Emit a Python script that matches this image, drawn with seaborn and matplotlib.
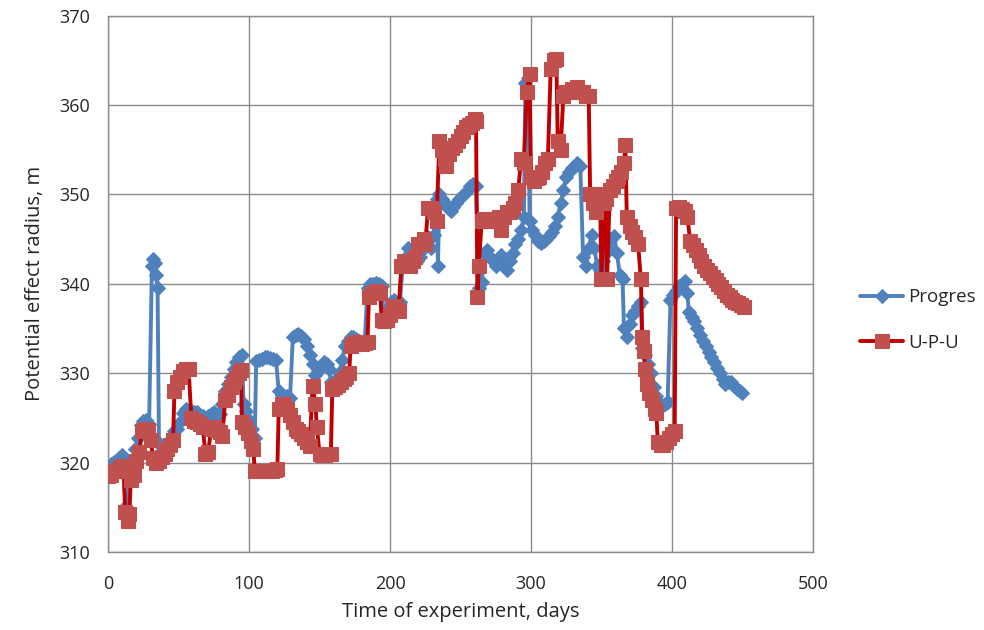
import matplotlib
matplotlib.use("Agg")
import matplotlib.pyplot as plt
import seaborn as sns
import pandas as pd

# ---------------- data ----------------
progres_days = [0, 2, 4, 6, 8, 10, 11, 12, 14, 15, 17, 19, 21, 23, 25, 27, 29,
                31, 32, 33, 34, 35, 36, 37, 39, 41, 43, 45, 47, 49, 51, 53, 55, 57, 59,
                61, 63, 65, 67, 69, 71, 73, 75, 77, 79, 81, 83, 85, 87, 89, 91, 93, 95,
                96, 98, 100, 102, 104, 105, 107, 109, 111, 113, 115, 117, 119, 121, 123,
                125, 127, 129, 131, 133, 135, 137, 139, 141, 143, 145, 147, 149, 151, 153,
                155, 157, 158, 160, 162, 164, 166, 168, 170, 172, 174, 176, 178, 180, 182,
                184, 186, 188, 190, 192, 194, 195, 197, 199, 201, 203, 205, 207, 209, 211,
                213, 215, 217, 219, 221, 223, 225, 227, 229, 231, 233, 234, 235, 237, 239,
                241, 243, 245, 247, 249, 251, 253, 255, 257, 259, 261, 263, 265, 267, 269,
                271, 273, 275, 277, 279, 281, 283, 285, 287, 289, 291, 293, 295, 296, 298,
                299, 301, 303, 305, 307, 309, 311, 313, 315, 317, 319, 321, 323, 325, 327,
                329, 331, 333, 335, 337, 339, 341, 343, 345, 347, 349, 351, 353, 355, 357,
                359, 361, 363, 365, 366, 368, 370, 372, 374, 376, 378, 379, 381, 383, 385,
                387, 389, 391, 393, 395, 397, 399, 401, 403, 405, 407, 409, 411, 412, 414,
                416, 418, 420, 422, 424, 426, 428, 430, 432, 434, 436, 438, 440, 442, 444,
                446, 448, 450]
progres_vals = [319.5, 319.8, 320.1, 320.3, 320.6, 320.8, 320.3, 315.0, 314.8, 318.5,
                320.0, 321.5, 322.8, 324.2, 324.6, 324.8, 324.3,
                342.0, 342.8, 342.3, 341.0, 339.5, 322.2, 322.0, 321.0, 321.3, 322.0,
                322.8, 323.5, 323.8, 324.5, 325.5, 326.0, 325.8, 325.8,
                325.6, 325.6, 325.3, 325.2, 325.0, 325.2, 325.4, 325.6, 325.3, 325.4,
                326.5, 328.0, 328.8, 329.6, 330.5, 331.2, 331.8, 332.0,
                326.5, 325.8, 324.8, 323.8, 322.8, 331.4, 331.5, 331.6, 331.8, 331.8,
                331.7, 331.6, 331.5, 328.0, 327.6,
                327.5, 327.4, 327.2, 334.0, 334.3, 334.4, 334.2, 333.8, 333.0, 332.0,
                331.0, 329.8, 330.2, 330.8, 331.2,
                331.0, 330.5, 329.0, 329.0, 329.4, 330.0, 331.5, 333.0, 333.6, 334.0,
                334.0, 333.8, 333.6, 333.5, 333.5,
                339.5, 340.0, 340.0, 340.1, 340.0, 339.8, 336.0, 336.5, 337.5, 338.0,
                338.2, 337.5, 338.0, 342.0, 343.0,
                344.0, 343.5, 342.8, 342.5, 343.0, 343.8, 344.5, 345.2, 344.0, 345.5,
                349.5, 342.0, 350.0, 349.5, 349.0,
                348.5, 348.2, 348.6, 349.0, 349.5, 349.8, 350.2, 350.5, 351.0, 351.2,
                351.0, 339.5, 340.2, 343.5, 343.8,
                343.0, 342.5, 342.0, 342.8, 343.2, 342.5, 341.5, 342.5, 343.5, 344.5,
                345.0, 346.0, 347.5, 362.5, 363.0,
                347.0, 346.0, 345.5, 344.8, 344.6, 344.8, 345.0, 345.3, 345.8, 346.5,
                347.5, 349.0, 350.5, 352.0, 352.5,
                353.0, 353.2, 353.5, 353.2, 343.0, 342.0, 344.0, 345.5, 344.0, 342.0,
                341.5, 342.5, 343.5, 344.0, 345.0,
                345.3, 343.5, 341.0, 340.5, 335.0, 334.0, 335.5, 336.5, 337.0, 337.5,
                338.0, 332.8, 332.0, 331.0, 330.0,
                328.5, 327.5, 326.8, 326.3, 326.5, 326.8, 338.2, 338.8, 339.2, 339.8,
                340.0, 340.3, 339.0, 336.8, 336.3,
                335.8, 335.0, 334.3, 333.6, 333.0, 332.4, 331.8, 331.2, 330.6, 330.0,
                329.3, 328.8, 329.0, 329.0, 328.6,
                328.2, 328.0, 327.8]

upu_days = [0, 2, 4, 6, 8, 10, 11, 12, 14, 15, 16, 18, 20, 22, 24, 26, 28, 30, 32,
            34, 36, 38, 40, 42, 44, 46, 47, 49, 51, 53, 55, 57, 59, 61, 63, 65, 67, 69,
            71, 73, 75, 77, 79, 81, 83, 85, 87, 89, 91, 93, 94, 95, 97, 99, 101, 103,
            104, 106, 108, 110, 112, 114, 116, 118, 120, 121, 123, 125, 127, 129, 131,
            133, 135, 137, 139, 141, 143, 145, 147, 148, 150, 152, 154, 156, 158, 159,
            161, 163, 165, 167, 169, 171, 172, 174, 176, 178, 180, 182, 184, 185, 187,
            189, 191, 193, 194, 196, 198, 200, 202, 204, 206, 208, 210, 212, 214, 216,
            218, 220, 222, 224, 225, 227, 229, 231, 233, 235, 237, 239, 240, 242, 244,
            246, 248, 250, 252, 254, 256, 258, 260, 261, 262, 263, 265, 267, 269, 271,
            273, 275, 277, 279, 281, 283, 285, 287, 289, 291, 293, 295, 297, 299, 300,
            302, 304, 306, 308, 310, 312, 314, 316, 318, 319, 321, 323, 325, 327, 329,
            331, 333, 335, 337, 339, 341, 342, 344, 346, 347, 349, 350, 352, 353, 354,
            356, 358, 360, 362, 364, 366, 367, 368, 370, 372, 374, 376, 378, 379, 380,
            381, 382, 384, 386, 388, 389, 390, 392, 394, 396, 398, 400, 402, 403, 405,
            407, 409, 411, 413, 415, 417, 419, 421, 423, 425, 427, 429, 431, 433, 435,
            437, 439, 441, 443, 445, 447, 449, 451]
upu_vals = [318.5, 318.6, 319.0, 319.2, 319.4, 319.6, 319.0, 314.5, 313.5, 314.2,
            318.0, 318.6, 320.2, 321.2, 323.5, 323.8, 323.6, 322.5, 320.5,
            320.0, 320.2, 320.6, 321.0, 321.5, 322.0, 322.5, 328.0, 329.0, 329.6,
            330.2, 330.5, 330.5, 325.0, 324.6, 324.5, 324.3, 324.0, 321.0,
            321.2, 323.8, 324.0, 323.6, 323.4, 323.0, 327.0, 327.6, 328.5, 329.0,
            329.5, 330.0, 330.3, 324.5, 324.0, 323.3, 322.4, 321.5,
            319.0, 319.0, 319.0, 319.0, 319.0, 319.1, 319.1, 319.2, 319.3, 326.0,
            326.6, 326.5, 326.0, 325.3, 324.5,
            323.8, 323.5, 323.2, 322.8, 322.3, 321.8, 328.6, 326.6, 324.0, 321.0,
            320.8, 320.8, 320.9, 321.0, 328.2,
            328.5, 328.7, 329.0, 329.3, 329.6, 330.0, 333.0, 333.3, 333.5, 333.5,
            333.3, 333.4, 333.5, 338.5, 339.0,
            339.0, 339.2, 339.0, 336.0, 335.8, 336.0, 336.5, 337.5, 337.5, 337.0,
            342.0, 342.5, 342.5, 342.0, 342.5,
            343.0, 344.5, 344.5, 345.0, 344.5, 348.5, 348.5, 348.0, 347.0, 356.0,
            355.0, 354.0, 353.2, 354.5, 355.2,
            355.5, 356.0, 356.5, 357.0, 357.5, 357.8, 358.0, 358.4, 358.2, 338.5,
            342.0, 347.0, 347.2, 347.2, 347.0,
            347.0, 347.2, 347.5, 346.0, 347.5, 348.0, 348.0, 348.5, 349.0, 350.5,
            354.0, 353.5, 361.5, 363.5, 352.0,
            351.5, 351.8, 352.0, 352.5, 353.5, 354.0, 364.0, 365.0, 365.2, 356.0,
            355.0, 361.0, 361.5, 361.5, 361.8,
            361.5, 362.0, 361.5, 361.5, 361.0, 361.0, 350.0, 349.0, 348.0, 349.5,
            350.0, 340.5, 349.0, 349.5, 340.5,
            350.5, 351.0, 351.5, 352.0, 352.5, 353.5, 355.5, 347.5, 346.5, 345.8,
            345.2, 344.5, 340.5, 334.0, 332.5,
            330.5, 328.8, 327.8, 327.0, 326.0, 325.5, 322.3, 322.0, 322.0, 322.3,
            322.8, 323.2, 323.5, 348.5, 348.6,
            348.4, 348.2, 347.5, 344.8, 344.3, 343.8, 343.2, 342.6, 342.0, 341.6,
            341.2, 340.8, 340.4, 340.0, 339.6,
            339.2, 338.8, 338.5, 338.2, 338.0, 337.8, 337.6, 337.4]

x_ticks = [0, 100, 200, 300, 400, 500]
y_ticks = [310, 320, 330, 340, 350, 360, 370]

df_p = pd.DataFrame({"day": progres_days, "radius": progres_vals})
df_u = pd.DataFrame({"day": upu_days, "radius": upu_vals})

# ---------------- plot ----------------
sns.set_theme(style="white")
plt.rcParams["font.family"] = ["Open Sans", "DejaVu Sans"]

fig = plt.figure(figsize=(9.84, 6.30), dpi=100)
ax = fig.add_axes([0.110, 0.124, 0.716, 0.851])

blue = "#4F81BD"
red_line = "#C00000"
red_mk = "#C0504D"
txt = "#262626"

sns.lineplot(data=df_p, x="day", y="radius", ax=ax, estimator=None, sort=False,
             color=blue, linewidth=2.8, marker="D", markersize=7.5,
             markerfacecolor=blue, markeredgecolor=blue, label="Progres", zorder=3)
sns.lineplot(data=df_u, x="day", y="radius", ax=ax, estimator=None, sort=False,
             color=red_line, linewidth=2.8, marker="s", markersize=10.5,
             markerfacecolor=red_mk, markeredgecolor=red_mk, label="U-P-U", zorder=4)

ax.set_xlim(0, 500)
ax.set_ylim(310, 370)
ax.set_xticks(x_ticks)
ax.set_yticks(y_ticks)
ax.grid(True, color="#8C8C8C", linewidth=1.0)
ax.set_axisbelow(True)
for s in ax.spines.values():
    s.set_color("#8C8C8C")
    s.set_linewidth(1.0)
ax.tick_params(axis="x", length=0, labelsize=13, colors=txt, pad=17)
ax.tick_params(axis="y", length=0, labelsize=13, colors=txt, pad=13)
ax.set_xlabel("Time of experiment, days", fontsize=14.5, color=txt, labelpad=6)
ax.set_ylabel("Potential effect radius, m", fontsize=14.5, color=txt, labelpad=10)

leg = ax.legend(loc="center left", bbox_to_anchor=(0.874, 0.492),
                bbox_transform=fig.transFigure, frameon=False, fontsize=13.5,
                handlelength=2.3, labelspacing=1.45, handletextpad=0.25,
                borderpad=0, borderaxespad=0)
for t in leg.get_texts():
    t.set_color(txt)

fig.savefig("out.png", dpi=100)
